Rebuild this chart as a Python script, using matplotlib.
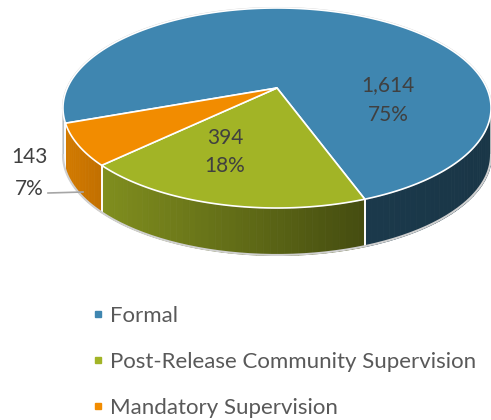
import matplotlib
matplotlib.use("Agg")
import matplotlib.pyplot as plt
import numpy as np
from matplotlib.transforms import Transform
from matplotlib.path import Path
from matplotlib.lines import Line2D

plt.rcParams['font.family'] = ['Lato', 'DejaVu Sans']

# dados
categorias = ['Formal', 'Post-Release Community Supervision', 'Mandatory Supervision']
valores = [1614, 394, 143]
cores = ['#3f86b0', '#a2b426', '#f28c00']

# geometria da "perspectiva" (pixels, y para cima)
cx, cy = 277, 332
A, B, k = 209.7, 96.0, 0.2
prof = 47  # espessura da pizza


class Inclina(Transform):
    # projeta o circulo unitario como um disco visto em perspectiva
    input_dims = 2
    output_dims = 2

    def transform_non_affine(self, v):
        v = np.asarray(v, dtype=float)
        d = 1 + k * v[:, 1]
        return np.column_stack([cx + A * v[:, 0] / d, cy + B * v[:, 1] / d])

    def transform_path_non_affine(self, path):
        pts = []
        for seg, code in path.iter_bezier():
            pts.append(seg(np.linspace(0, 1, 40)))
        pts = np.vstack(pts)
        return Path(self.transform_non_affine(pts), closed=True)


inc = Inclina()

fig = plt.figure(figsize=(4.91, 4.2), dpi=100)
ax = fig.add_axes([0, 0, 1, 1])

fatias, _ = ax.pie(valores, colors=cores, startangle=200, counterclock=False,
                   wedgeprops=dict(edgecolor='white', linewidth=1.2))
for w in fatias:
    w.set_transform(inc + ax.transData)
    w.set_zorder(3)

ax.set_aspect('auto')
ax.set_xlim(0, 491)
ax.set_ylim(0, 420)
ax.axis('off')


def sombra(x):
    return np.interp(x, [63, 110, 360, 491], [0.88, 0.78, 0.43, 0.40])


# paredes laterais (parte da frente)
vis1 = 180 + np.degrees(np.arcsin(k))
vis2 = 360 - np.degrees(np.arcsin(k))
fronteiras = []
for w, c in zip(fatias, cores):
    rgb = np.array(matplotlib.colors.to_rgb(c))
    for s in (-360, 0, 360):
        a1 = max(w.theta1 + s, vis1)
        a2 = min(w.theta2 + s, vis2)
        if a2 <= a1:
            continue
        n = max(2, int((a2 - a1) / 1.5))
        t = np.radians(np.linspace(a1, a2, n + 1))
        p = inc.transform(np.column_stack([np.cos(t), np.sin(t)]))
        for i in range(n):
            xs = p[i:i + 2, 0]
            ys = p[i:i + 2, 1]
            cor = rgb * sombra(xs.mean())
            ax.fill_between(xs, ys, ys - prof, color=cor, lw=0.6, zorder=2)
        for a in (a1, a2):
            if vis1 < a < vis2:
                fronteiras.append(a)

for a in fronteiras:
    x, y = inc.transform([[np.cos(np.radians(a)), np.sin(np.radians(a))]])[0]
    ax.plot([x, x], [y, y - prof], color='white', lw=1.2, zorder=2.5)

# contorno externo
t = np.radians(np.linspace(vis1, vis2, 200))
p = inc.transform(np.column_stack([np.cos(t), np.sin(t)]))
ax.plot(p[:, 0], p[:, 1] - prof, color='#d0d0d0', lw=1.5, zorder=2.6)
for j in (0, -1):
    ax.plot([p[j, 0], p[j, 0]], [p[j, 1], p[j, 1] - prof], color='#d0d0d0', lw=1.2, zorder=2.6)
t = np.radians(np.linspace(vis2, vis1 + 360, 300))
p = inc.transform(np.column_stack([np.cos(t), np.sin(t)]))
ax.plot(p[:, 0], p[:, 1], color='#cfcfcf', lw=1.5, zorder=2.9)

# rotulos
total = sum(valores)
pos_rotulos = [(388, 85, 115), (225, 138, 166), (29, 157, 189)]
for v, (x, y1, y2) in zip(valores, pos_rotulos):
    ax.text(x, 420 - y1, f"{v:,}", ha='center', va='center', fontsize=15,
            color='#404040', zorder=5)
    ax.text(x, 420 - y2, f"{100 * v / total:.0f}%", ha='center', va='center',
            fontsize=15, color='#404040', zorder=5)
ax.plot([48, 83], [420 - 193, 420 - 192], color='#a6a6a6', lw=1.2, zorder=2.7)

# legenda
alcas = [Line2D([], [], marker='s', ls='', color=c, markersize=5) for c in cores]
ax.legend(alcas, categorias, loc='upper left', bbox_to_anchor=(91 / 491, 1 - 306 / 420),
          frameon=False, fontsize=16, handlelength=0.6, handletextpad=0.27,
          borderpad=0, borderaxespad=0, labelspacing=1.17, labelcolor='#595959')

fig.savefig('out.png', dpi=100)
